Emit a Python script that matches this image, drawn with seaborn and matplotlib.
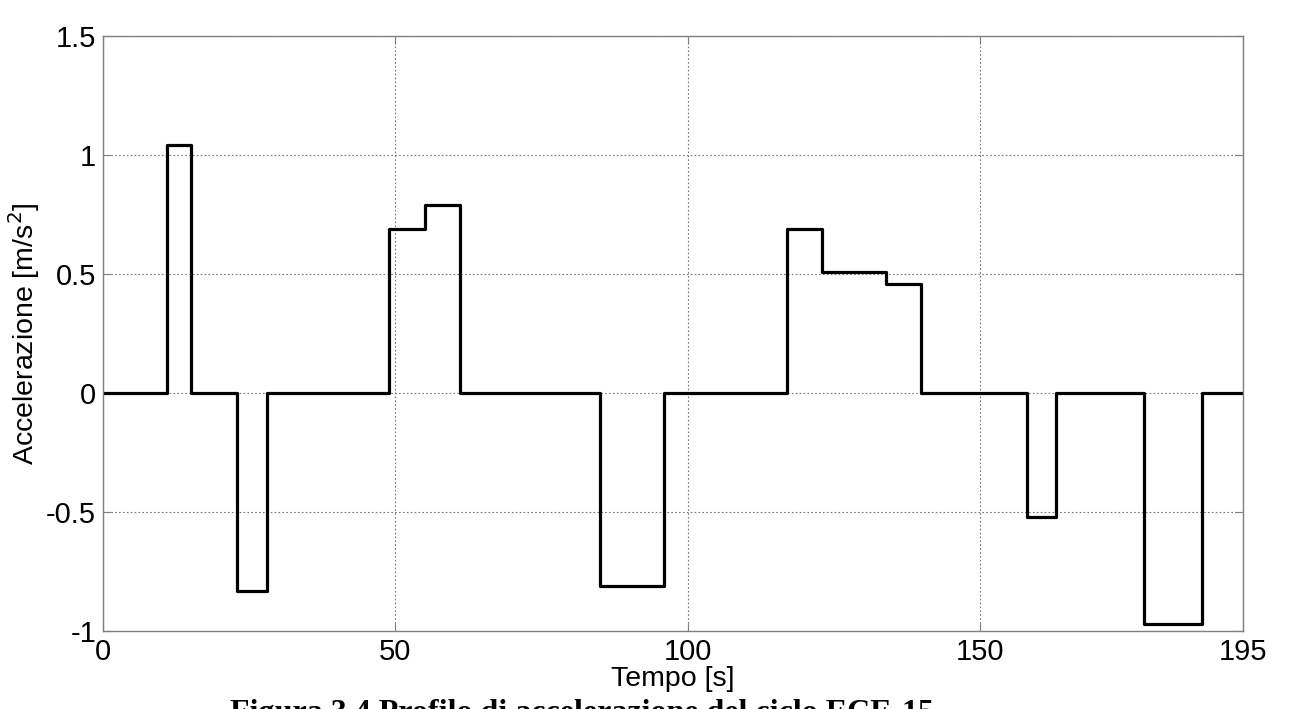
import matplotlib
matplotlib.use("Agg")
import matplotlib.pyplot as plt
import seaborn as sns
import pandas as pd

# ECE-15 acceleration profile
tempo = [0, 11, 15, 23, 28, 49, 55, 61, 85, 96, 117, 123, 134, 140, 158, 163, 178, 188, 195]
accelerazione = [0, 1.04, 0, -0.83, 0, 0.69, 0.79, 0, -0.81, 0, 0.69, 0.51, 0.46, 0, -0.52, 0, -0.97, 0, 0]

x_ticks = [0, 50, 100, 150, 195]
y_ticks = [-1, -0.5, 0, 0.5, 1, 1.5]
y_tick_labels = ["-1", "-0.5", "0", "0.5", "1", "1.5"]

df = pd.DataFrame({"Tempo": tempo, "Acc": accelerazione})

sns.set_theme(style="ticks")
plt.rcParams['font.family'] = ['Liberation Sans', 'DejaVu Sans']

fig = plt.figure(figsize=(13.01, 7.09), dpi=100)
ax = fig.add_axes([103 / 1301, 1 - 631 / 709, 1140 / 1301, 595 / 709])

sns.lineplot(data=df, x="Tempo", y="Acc", drawstyle="steps-post",
             color="black", linewidth=2.3, ax=ax)

ax.set_xlim(0, 195)
ax.set_ylim(-1, 1.5)
ax.set_xticks(x_ticks)
ax.set_yticks(y_ticks)
ax.set_yticklabels(y_tick_labels)

ax.grid(True, linestyle=(0, (1.5, 2)), color="#777777", linewidth=0.8)
for sp in ax.spines.values():
    sp.set_color("#808080")
    sp.set_linewidth(1.0)
ax.tick_params(direction="in", length=6, width=0.8, color="#808080",
               top=True, right=True, labelsize=21, labelcolor="black", pad=5)

ax.set_xlabel("Tempo [s]", fontsize=20.5, labelpad=0, color="black")
ax.set_ylabel("Accelerazione [m/s$^2$]", fontsize=20.5, labelpad=3, color="black")

# caption sits at the very bottom and is clipped, like in the source scan
fig.text(230 / 1301, 1 - 699 / 709, "Figura 3.4 Profilo di accelerazione del ciclo ECE-15",
         family="Liberation Serif", fontweight="bold", fontsize=23,
         ha="left", va="top", color="black")

fig.savefig("out.png", dpi=100)
